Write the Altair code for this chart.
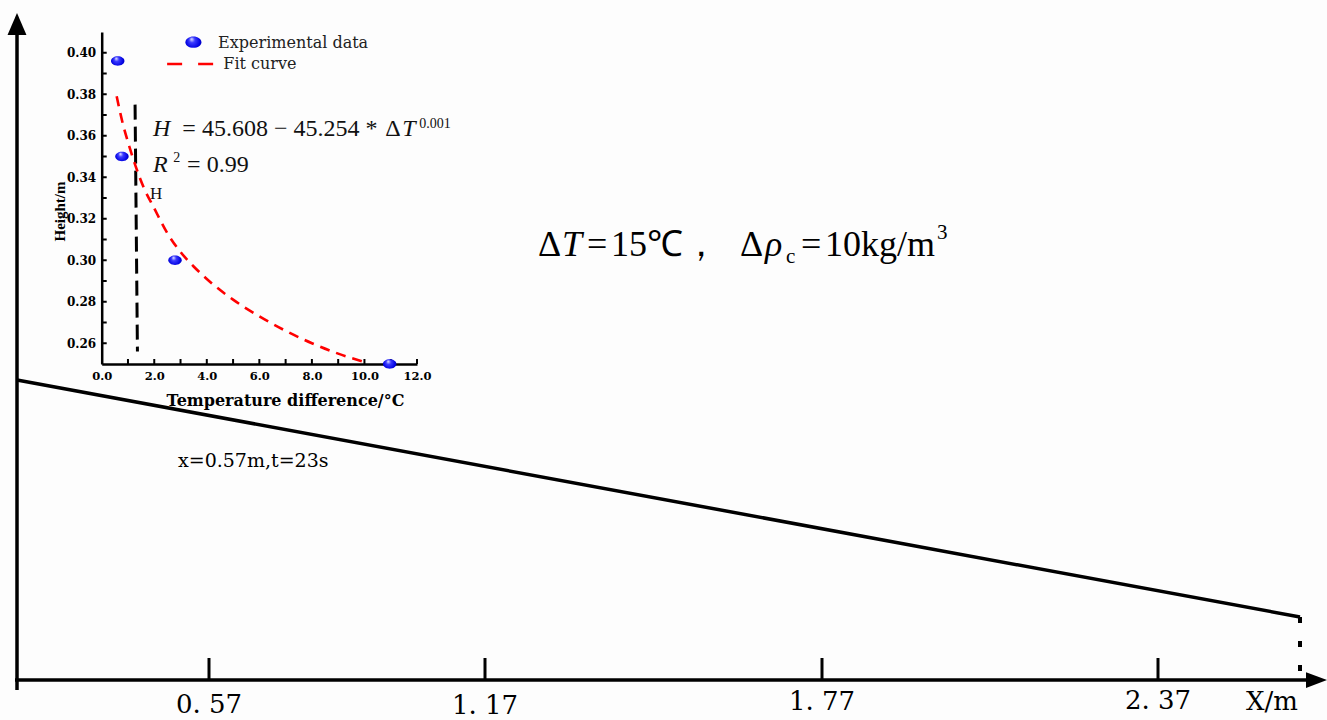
import altair as alt
import pandas as pd

SERIF = "DejaVu Serif"
TIMES = "Liberation Serif"
INK = "black"

# ---------------- schematic frame: origin at the axes corner, y pointing up ----------------
frame_x = [-17, 1310]
frame_y = [-40, 680]

# axis lines: vertical and horizontal
axis_x0 = [0, -2]
axis_y0 = [-10, 0]
axis_x1 = [0, 1292]
axis_y1 = [648, 0]

# distance markers along the channel
tick_pos = [192, 468, 805, 1141]
tick_top = [22, 22, 22, 22]
tick_labels = ["0. 57", "1. 17", "1. 77", "2. 37"]
tick_label_y = [-33, -34, -30, -29]

# interface between the two layers
interface_x = [0, 1283]
interface_y = [300, 63]

# ---------------- inset: height vs temperature difference ----------------
exp_dT = [0.61, 0.77, 2.79, 10.96]
exp_H = [0.396, 0.350, 0.300, 0.250]

fit_dT = [0.57, 0.8, 1.0, 1.3, 1.6, 2.0, 2.5, 3.0, 3.5, 4.0, 5.0, 6.0, 7.0, 8.0, 9.0, 10.0]
fit_H = [0.379, 0.366, 0.357, 0.345, 0.335, 0.325, 0.313, 0.304, 0.297, 0.291,
         0.281, 0.273, 0.266, 0.260, 0.255, 0.251]

h_dT = [1.27, 1.36]
h_H = [0.375, 0.256]

x_ticks_minor = list(range(1, 13))
y_ticks_minor = [0.26, 0.27, 0.28, 0.29, 0.30, 0.31, 0.32, 0.33, 0.34, 0.35,
                 0.36, 0.37, 0.38, 0.39, 0.40]

# ---------------- scales ----------------
MX = alt.Scale(domain=frame_x, nice=False, zero=False)
MY = alt.Scale(domain=frame_y, nice=False, zero=False)

IX = alt.Scale(domain=[0, 12], range=[101.7, 417], nice=False, zero=False)
IY = alt.Scale(domain=[0.25, 0.41], range=[364, 32], nice=False, zero=False)

IXA = alt.Axis(
    orient="bottom", offset=-356, values=[0, 2, 4, 6, 8, 10, 12], format=".1f",
    ticks=False, tickSize=0, grid=False, domainColor=INK, domainWidth=2.5,
    labelFont=SERIF, labelFontSize=11.5, labelFontWeight="bold", labelColor=INK,
    labelPadding=6, labelOverlap=False, labelFlush=False,
    title="Temperature difference/°C", titleFont=SERIF, titleFontSize=16,
    titleFontWeight="bold", titleColor=INK, titleX=285, titleY=36,
    titleAlign="center", titleBaseline="middle",
)
IYA = alt.Axis(
    orient="left", offset=-101.7, values=[0.26, 0.28, 0.30, 0.32, 0.34, 0.36, 0.38, 0.40],
    format=".2f", ticks=False, tickSize=0, grid=False, domainColor=INK, domainWidth=2.5,
    labelFont=SERIF, labelFontSize=12, labelFontWeight="bold", labelColor=INK,
    labelPadding=6, labelOverlap=False, labelFlush=False,
    title="Height/m", titleFont=TIMES, titleFontSize=15, titleFontWeight="bold",
    titleColor=INK, titleX=-42, titleY=211, titleAngle=270,
    titleAlign="center", titleBaseline="middle",
)


def mpos(xf="x", yf="y"):
    return dict(x=alt.X(f"{xf}:Q", scale=MX, axis=None),
                y=alt.Y(f"{yf}:Q", scale=MY, axis=None))


def ipos(xf="x", yf="y"):
    return dict(x=alt.X(f"{xf}:Q", scale=IX, axis=IXA),
                y=alt.Y(f"{yf}:Q", scale=IY, axis=IYA))


def text_layer(df, pos, **mark):
    base = dict(color=INK, align="left", baseline="alphabetic")
    base.update(mark)
    return alt.Chart(df).mark_text(**base).encode(**pos(), text="t:N")


# ---------------- schematic layers ----------------
axes_df = pd.DataFrame({"x": axis_x0, "y": axis_y0, "x2": axis_x1, "y2": axis_y1})
axes = alt.Chart(axes_df).mark_rule(color=INK, strokeWidth=3.5).encode(
    **mpos(), x2="x2:Q", y2="y2:Q")

ticks_df = pd.DataFrame({"x": tick_pos, "y": [0] * 4, "y2": tick_top})
ticks = alt.Chart(ticks_df).mark_rule(color=INK, strokeWidth=3).encode(
    **mpos(), y2="y2:Q")

iface_df = pd.DataFrame({"x": interface_x, "y": interface_y})
iface = alt.Chart(iface_df).mark_line(color=INK, strokeWidth=3.5).encode(**mpos())

drop_df = pd.DataFrame({"x": [interface_x[1]], "y": [interface_y[1]], "y2": [0]})
drop = alt.Chart(drop_df).mark_rule(color=INK, strokeWidth=4, strokeDash=[6, 18],
                                    strokeCap="butt").encode(**mpos(), y2="y2:Q")

up_df = pd.DataFrame({"x": [0], "y": [656]})
arrow_up = alt.Chart(up_df).mark_point(
    shape="M0,-1L0.86,1L-0.86,1Z", size=484, filled=True, color=INK, opacity=1
).encode(**mpos())

right_df = pd.DataFrame({"x": [1299.5], "y": [0]})
arrow_right = alt.Chart(right_df).mark_point(
    shape="M1,0L-1,-0.75L-1,0.75Z", size=441, filled=True, color=INK, opacity=1
).encode(**mpos())

tlab_df = pd.DataFrame({"x": tick_pos, "y": tick_label_y, "t": tick_labels})
tlabels = text_layer(tlab_df, mpos, font=SERIF, fontSize=26, align="center")

xm_df = pd.DataFrame({"x": [1255], "y": [-30], "t": ["X/m"]})
xm = text_layer(xm_df, mpos, font=SERIF, fontSize=26, align="center")

pos_df = pd.DataFrame({"x": [161], "y": [213], "t": ["x=0.57m,t=23s"]})
pos_note = text_layer(pos_df, mpos, font=SERIF, fontSize=19)

# ΔT = 15℃，Δρc = 10kg/m³ built from regular, italic and script pieces
cond_reg = pd.DataFrame({"x": [521, 570, 594, 723, 784, 808],
                         "y": [424] * 6,
                         "t": ["Δ", "=", "15℃，", "Δ", "=", "10kg/m"]})
cond_it = pd.DataFrame({"x": [545, 748], "y": [424, 424], "t": ["T", "ρ"]})
cond_sc = pd.DataFrame({"x": [769, 920], "y": [417, 441], "t": ["c", "3"]})

cond_a = text_layer(cond_reg, mpos, font=TIMES, fontSize=36)
cond_b = text_layer(cond_it, mpos, font=TIMES, fontSize=36, fontStyle="italic")
cond_c = text_layer(cond_sc, mpos, font=TIMES, fontSize=21)

main = alt.layer(axes, ticks, iface, drop, arrow_up, arrow_right, tlabels, xm,
                 pos_note, cond_a, cond_b, cond_c)

# ---------------- inset layers ----------------
SPHERE = {
    "gradient": "radial", "x1": 0.38, "y1": 0.3, "r1": 0.0,
    "x2": 0.5, "y2": 0.5, "r2": 0.6,
    "stops": [{"offset": 0.0, "color": "#f0f0ff"},
              {"offset": 0.3, "color": "#3a3aff"},
              {"offset": 0.75, "color": "#0000e0"},
              {"offset": 1.0, "color": "#00008a"}],
}
ELLIPSE = "M-1,0A1,0.7 0 1,1 1,0A1,0.7 0 1,1 -1,0Z"

xt_df = pd.DataFrame({"x": x_ticks_minor, "y": [0.25] * len(x_ticks_minor)})
xt = alt.Chart(xt_df).mark_tick(orient="vertical", size=5, thickness=2, color=INK,
                                yOffset=-2.5, opacity=1).encode(**ipos())
yt_df = pd.DataFrame({"x": [0] * len(y_ticks_minor), "y": y_ticks_minor})
yt = alt.Chart(yt_df).mark_tick(orient="horizontal", size=5, thickness=2, color=INK,
                                xOffset=2.5, opacity=1).encode(**ipos())

fit_df = pd.DataFrame({"x": fit_dT, "y": fit_H})
fit = alt.Chart(fit_df).mark_line(color="#ff0000", strokeWidth=2.6, strokeDash=[10, 7],
                                  interpolate="monotone").encode(**ipos())

hline_df = pd.DataFrame({"x": h_dT, "y": h_H})
hline = alt.Chart(hline_df).mark_line(color=INK, strokeWidth=3, strokeDash=[15, 7]
                                      ).encode(**ipos())

exp_df = pd.DataFrame({"x": exp_dT, "y": exp_H})
dots = alt.Chart(exp_df).mark_point(shape=ELLIPSE, size=180, filled=True, fill=SPHERE,
                                    strokeWidth=0, opacity=1).encode(**ipos())

# legend
leg_dot_df = pd.DataFrame({"x": [3.49], "y": [0.4051]})
leg_dot = alt.Chart(leg_dot_df).mark_point(shape=ELLIPSE, size=256, filled=True,
                                           fill=SPHERE, strokeWidth=0, opacity=1
                                           ).encode(**ipos())
leg_line_df = pd.DataFrame({"x": [2.49, 4.25], "y": [0.3946, 0.3946]})
leg_line = alt.Chart(leg_line_df).mark_line(color="#ff0000", strokeWidth=2.6,
                                            strokeDash=[15, 16]).encode(**ipos())
leg_txt_df = pd.DataFrame({"x": [4.43, 4.63], "y": [0.4047, 0.3946],
                           "t": ["Experimental data", "Fit curve"]})
leg_txt = text_layer(leg_txt_df, ipos, font=SERIF, fontSize=16, color="#222222",
                     baseline="middle")

# fitted relation and its goodness of fit
eq_reg = pd.DataFrame({"x": [3.07, 10.79, 3.25], "y": [0.360, 0.360, 0.3427],
                       "t": ["= 45.608 − 45.254 *", "Δ", "= 0.99"]})
eq_it = pd.DataFrame({"x": [1.95, 11.44, 1.95], "y": [0.360, 0.360, 0.3427],
                      "t": ["H", "T", "R"]})
eq_sc = pd.DataFrame({"x": [12.09, 2.72], "y": [0.3637, 0.3475], "t": ["0.001", "2"]})
eq_a = text_layer(eq_reg, ipos, font=TIMES, fontSize=24, color="#111111")
eq_b = text_layer(eq_it, ipos, font=TIMES, fontSize=24, color="#111111",
                  fontStyle="italic")
eq_c = text_layer(eq_sc, ipos, font=TIMES, fontSize=14, color="#111111")

hlab_df = pd.DataFrame({"x": [1.84], "y": [0.3297], "t": ["H"]})
hlab = text_layer(hlab_df, ipos, font=TIMES, fontSize=17, color="#111111")

inset = alt.layer(xt, yt, hline, fit, dots, leg_dot, leg_line, leg_txt,
                  eq_a, eq_b, eq_c, hlab)

chart = (
    alt.layer(main, inset)
    .resolve_scale(x="independent", y="independent")
    .properties(width=1327, height=720, padding=0, background="#fdfdfd",
                autosize=alt.AutoSizeParams(type="none"))
    .configure_view(strokeWidth=0)
)

chart.save("out.html", embed_options={"renderer": "svg", "actions": False})
